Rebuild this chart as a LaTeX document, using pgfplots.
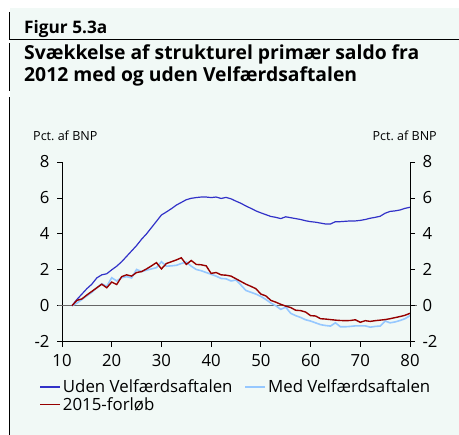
\documentclass[border=0pt]{standalone}
\usepackage{pgfplots}
\pgfplotsset{compat=1.18}
\usepackage{pgfplotstable}
\usepackage{fontspec}
\setmainfont{Open Sans}
\definecolor{mint}{RGB}{241,249,246}
\definecolor{udenc}{RGB}{50,50,200}
\definecolor{medc}{RGB}{150,200,255}
\definecolor{redc}{RGB}{150,0,0}
\pgfplotstableread{
x y
12 0
13 0.35
14 0.65
15 0.95
16 1.2
17 1.55
18 1.72
19 1.78
20 2.0
21 2.2
22 2.45
23 2.75
24 3.05
25 3.35
26 3.7
27 4.0
28 4.35
29 4.7
30 5.05
31 5.22
32 5.4
33 5.6
34 5.75
35 5.9
36 5.98
37 6.02
38 6.05
39 6.05
40 6.02
41 6.05
42 5.97
43 6.03
44 5.95
45 5.82
46 5.7
47 5.55
48 5.42
49 5.28
50 5.17
51 5.07
52 4.97
53 4.92
54 4.85
55 4.95
56 4.9
57 4.85
58 4.8
59 4.73
60 4.68
61 4.65
62 4.6
63 4.55
64 4.55
65 4.68
66 4.68
67 4.7
68 4.72
69 4.72
70 4.75
71 4.8
72 4.87
73 4.92
74 4.98
75 5.15
76 5.25
77 5.28
78 5.33
79 5.42
80 5.48
}\uden
\pgfplotstableread{
x y
12 0
13 0.15
14 0.35
15 0.55
16 0.75
17 1.0
18 1.22
19 1.08
20 1.56
21 1.38
22 1.56
23 1.62
24 1.55
25 2.02
26 1.9
27 1.98
28 2.05
29 2.12
30 2.45
31 2.2
32 2.22
33 2.25
34 2.35
35 2.43
36 2.2
37 2.02
38 1.95
39 1.85
40 1.75
41 1.65
42 1.52
43 1.5
44 1.38
45 1.43
46 1.15
47 0.85
48 0.75
49 0.65
50 0.52
51 0.35
52 0.15
53 0.0
54 -0.2
55 -0.08
56 -0.42
57 -0.55
58 -0.65
59 -0.78
60 -0.85
61 -0.95
62 -1.05
63 -1.1
64 -1.13
65 -0.95
66 -1.17
67 -1.17
68 -1.15
69 -1.12
70 -1.12
71 -1.12
72 -1.19
73 -1.15
74 -1.13
75 -0.85
76 -0.95
77 -0.9
78 -0.82
79 -0.72
80 -0.55
}\med
\pgfplotstableread{
x y
12 0
13 0.3
14 0.38
15 0.6
16 0.8
17 1.0
18 1.2
19 1.0
20 1.32
21 1.18
22 1.62
23 1.72
24 1.65
25 1.85
26 1.9
27 2.05
28 2.22
29 2.4
30 2.05
31 2.35
32 2.45
33 2.55
34 2.67
35 2.3
36 2.52
37 2.3
38 2.28
39 2.22
40 1.8
41 1.85
42 1.72
43 1.7
44 1.65
45 1.5
46 1.35
47 1.2
48 1.08
49 0.95
50 0.65
51 0.55
52 0.3
53 0.2
54 0.08
55 -0.02
56 -0.1
57 -0.25
58 -0.27
59 -0.35
60 -0.55
61 -0.57
62 -0.72
63 -0.74
64 -0.77
65 -0.8
66 -0.82
67 -0.83
68 -0.82
69 -0.78
70 -0.92
71 -0.83
72 -0.87
73 -0.83
74 -0.8
75 -0.77
76 -0.72
77 -0.66
78 -0.6
79 -0.53
80 -0.42
}\forloeb
\begin{document}
\begin{tikzpicture}[x=1bp,y=1bp]
\useasboundingbox (0,0) rectangle (459,435);
\fill[white] (0,0) rectangle (459,435);
\fill[mint] (9.5,0) rectangle (459,427);
\draw[line width=1bp] (9.5,423) -- (9.5,395);
\draw[line width=1bp] (9.5,395.5) -- (459,395.5);
\draw[line width=1bp] (9.5,392) -- (9.5,344);
\draw[line width=1bp] (9.5,338) -- (9.5,0);
\node[anchor=base west, inner sep=0pt, font=\fontsize{17.3}{20}\selectfont\bfseries] at (24,401.7) {Figur 5.3a};
\node[anchor=base west, inner sep=0pt, font=\fontsize{19.4}{22}\selectfont\bfseries] at (24,375.7) {Svækkelse af strukturel primær saldo fra};
\node[anchor=base west, inner sep=0pt, font=\fontsize{19.4}{22}\selectfont\bfseries] at (24,353.3) {2012 med og uden Velfærdsaftalen};
\node[anchor=base west, inner sep=0pt, font=\fontsize{12.6}{14}\selectfont] at (33,294.3) {Pct.~af~BNP};
\node[anchor=base east, inner sep=0pt, font=\fontsize{12.6}{14}\selectfont] at (437,294.3) {Pct.~af~BNP};
\begin{axis}[
  at={(62bp,93.3bp)}, anchor=south west, scale only axis,
  width=348bp, height=179.7bp,
  xmin=10, xmax=80, ymin=-2, ymax=8,
  axis x line*=bottom, axis y line*=left,
  tick align=outside, major tick length=5bp,
  xtick={10,20,...,80}, ytick={-2,0,...,8},
  tick style={black, line width=0.8bp},
  axis line style={line width=0.8bp},
  /pgf/number format/assume math mode=true,
  ticklabel style={font=\fontsize{16.8}{19}\selectfont},
  yticklabel style={xshift=-4bp},
  xticklabel style={yshift=-4bp},
  clip=false,
  legend columns=2,
  legend cell align=left,
  legend style={draw=none, fill=none, at={(-0.065,-0.20)}, anchor=north west,
    font=\fontsize{16.9}{18}\selectfont, inner sep=0pt,
    /tikz/every even column/.append style={column sep=10bp},
    row sep=-1bp},
  legend image code/.code={\draw[#1] (0bp,0bp) -- (20bp,0bp);},
]
\draw[gray!80!black, line width=1bp] (axis cs:9.2,0) -- (axis cs:81.4,0);
\addplot[udenc, line width=1.2bp] table {\uden};
\addplot[medc, line width=1.6bp] table {\med};
\addplot[redc, line width=1.4bp] table {\forloeb};
\legend{Uden Velfærdsaftalen, Med Velfærdsaftalen, 2015-forløb}
\end{axis}
\begin{axis}[
  at={(62bp,93.3bp)}, anchor=south west, scale only axis,
  width=348bp, height=179.7bp,
  xmin=10, xmax=80, ymin=-2, ymax=8,
  axis x line=none, axis y line*=right,
  tick align=outside, major tick length=5bp,
  ytick={-2,0,...,8},
  tick style={black, line width=0.8bp},
  axis line style={line width=0.8bp},
  /pgf/number format/assume math mode=true,
  ticklabel style={font=\fontsize{16.8}{19}\selectfont},
  yticklabel style={xshift=4bp},
]
\addplot[draw=none] coordinates {(10,0)};
\end{axis}
\end{tikzpicture}
\end{document}
